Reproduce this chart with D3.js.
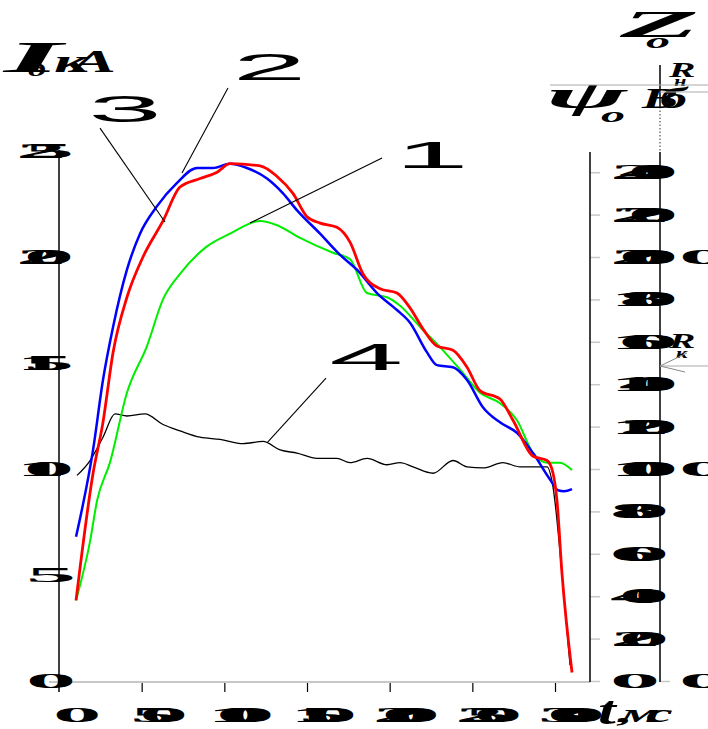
<!DOCTYPE html>
<html>
<head>
  <meta charset="UTF-8">
  <title>Iд(t)</title>
  <script src="https://cdn.jsdelivr.net/npm/d3@7"></script>
  <style>
    html, body { margin: 0; padding: 0; background: #fff; overflow: hidden; }
    svg { display: block; }
  </style>
</head>
<body>
<div id="chart"></div>
<script>
// curve 1 (green)
const t1 = [10.3, 18.8, 23.0, 30.8, 41.1, 53.2, 62.9, 73.2, 89.5, 103.4, 121.6, 131.9, 145.8, 165.7, 176.0, 186.3, 198.4, 206.3, 218.4, 230.4, 242.5, 254.6, 266.7, 277.0, 286.7, 295.2, 303.0, 310.3];
const i1 = [3.8, 6.6, 8.5, 10.3, 13.6, 15.8, 18.0, 19.2, 20.5, 21.1, 21.7, 21.5, 20.9, 20.2, 19.9, 18.3, 18.1, 17.7, 16.7, 15.75, 14.7, 13.6, 13.1, 12.3, 10.75, 10.3, 10.3, 9.95];

// curve 2 (blue)
const t2 = [10.3, 20.6, 26.6, 32.7, 41.1, 49.0, 59.3, 71.4, 83.5, 93.1, 103.4, 113.7, 125.8, 135.5, 144.0, 157.9, 170.0, 180.2, 192.3, 204.4, 212.3, 222.6, 228.6, 238.3, 246.8, 256.5, 266.7, 277.0, 286.7, 297.0, 301.8, 305.5, 310.3];
const i2 = [6.8, 10.9, 14.2, 16.7, 19.4, 21.1, 22.4, 23.5, 24.2, 24.2, 24.4, 24.2, 23.7, 23.0, 22.2, 21.1, 20.1, 19.4, 18.3, 17.5, 16.9, 15.5, 14.9, 14.8, 14.2, 12.9, 12.2, 11.7, 10.75, 9.5, 9.0, 8.95, 9.05];

// curve 3 (red)
const t3 = [10.3, 20.6, 26.6, 32.7, 41.1, 50.8, 62.9, 73.2, 85.3, 95.6, 103.4, 121.6, 131.9, 141.5, 150.0, 157.9, 168.1, 176.0, 183.9, 194.2, 204.4, 212.3, 220.2, 228.6, 238.3, 246.8, 254.6, 266.7, 274.6, 286.7, 295.2, 298.8, 301.2, 304.2, 310.3];
const i3 = [3.8, 9.8, 12.2, 15.5, 18.1, 20.0, 21.7, 23.3, 23.7, 24.0, 24.4, 24.3, 23.8, 23.0, 21.9, 21.6, 21.4, 20.7, 19.2, 18.5, 18.3, 17.6, 16.6, 15.8, 15.6, 14.8, 13.7, 13.3, 12.3, 10.6, 10.4, 9.8, 8.5, 5.1, 0.4];

// curve 4 (black)
const t4 = [10.9, 18.8, 26.6, 33.9, 41.1, 52.0, 62.9, 73.2, 85.3, 97.4, 111.3, 123.4, 133.7, 144.0, 156.1, 168.1, 176.0, 186.3, 198.4, 206.3, 214.1, 226.2, 238.3, 246.8, 256.5, 268.5, 278.8, 289.1, 295.2, 298.8, 304.2, 309.1];
const i4 = [9.7, 10.4, 11.5, 12.6, 12.5, 12.6, 12.1, 11.8, 11.5, 11.4, 11.2, 11.3, 10.9, 10.75, 10.5, 10.5, 10.3, 10.5, 10.2, 10.3, 10.1, 9.8, 10.4, 10.1, 10.05, 10.3, 10.1, 10.1, 10.1, 9.15, 5.1, 0.75];

// ticks
const xTicks = [0, 50, 100, 150, 200, 250, 300];
const yTicks = [0, 5, 10, 15, 20, 25];
const psiTicks = [0, 20, 40, 60, 80, 100, 120, 140, 160, 180, 200, 220, 240];
const zTicks = [0, 0.1, 0.2];
const zLabels = ['0', '0.1', '0.2'];

// curve numbers: [label, t, I] and leader lines [t0, I0, t1, I1]
const curveNames = [['1', 203, 24.2], ['2', 105, 28.35], ['3', 17.5, 26.37], ['4', 163.5, 14.67]];
const leaders = [[195.4, 24.67, 115.5, 21.6], [102.2, 27.97, 74.4, 23.96], [24.8, 26.08, 64.1, 21.65], [161.5, 14.29, 125.8, 11.23]];

const W = 708, H = 729;
const svg = d3.select('#chart').append('svg').attr('width', W).attr('height', H);

const x = d3.scaleLinear().domain([0, 300]).range([59, 555]);
const y = d3.scaleLinear().domain([0, 25]).range([681, 151]);
const yPsi = d3.scaleLinear().domain([0, 250]).range([681, 151]);
const yZ = d3.scaleLinear().domain([0, 0.25]).range([681, 151]);

function stretchText(parent, str, px, py, o)
{
  return parent.append('text')
    .attr('transform', `translate(${px},${py}) scale(${o.sx},${o.sy || 1})`)
    .attr('font-family', o.family || 'Liberation Serif')
    .attr('font-size', o.size)
    .attr('font-weight', o.weight || 'bold')
    .attr('font-style', o.style || 'normal')
    .attr('letter-spacing', o.ls || 0)
    .attr('fill', '#000')
    .text(str);
}

function vline(px, y0, y1, color, w, dash)
{
  svg.append('line').attr('x1', px).attr('x2', px).attr('y1', y0).attr('y2', y1)
    .attr('stroke', color).attr('stroke-width', w).attr('stroke-dasharray', dash || null);
}

function hline(y0, x0, x1, color, w)
{
  svg.append('line').attr('x1', x0).attr('x2', x1).attr('y1', y0).attr('y2', y0)
    .attr('stroke', color).attr('stroke-width', w);
}

// ---- axes ----
const axes = svg.append('g');

// bottom baseline and ticks
hline(682, 49, 590, '#c8c8c8', 2);
axes.append('g').attr('transform', 'translate(0,682)')
  .call(d3.axisBottom(x).tickValues(xTicks.slice(1)).tickSize(10).tickSizeOuter(0).tickFormat(''))
  .call(g => g.select('.domain').remove())
  .call(g => g.selectAll('line').attr('stroke', '#000').attr('stroke-width', 1.2));

// left axis
axes.append('g').attr('transform', 'translate(59,0)')
  .call(d3.axisRight(y).tickValues(yTicks).tickSize(10).tickSizeOuter(0).tickFormat(''))
  .call(g => g.select('.domain').remove())
  .call(g => g.selectAll('line').attr('stroke', '#c8c8c8').attr('stroke-width', 1.5));
vline(59, 150, 692, '#000', 1.5);

// right axis (psi)
axes.append('g').attr('transform', 'translate(590,0)')
  .call(d3.axisRight(yPsi).tickValues(psiTicks).tickSize(10).tickSizeOuter(0).tickFormat(''))
  .call(g => g.select('.domain').remove())
  .call(g => g.selectAll('line').attr('stroke', '#c8c8c8').attr('stroke-width', 1.5));
vline(590, 152, 682, '#000', 1.5);

// tick labels
const labels = svg.append('g');
xTicks.forEach(v => {
  const s = String(v);
  stretchText(labels, s, x(v) - 6 - 5.5 * (s.length - 1), 722, {size: 22, sx: 4.4, ls: -8.9});
});
yTicks.forEach(v => {
  const s = String(v);
  stretchText(labels, s, 26 - 10 * (s.length - 1), y(v) + 7, {size: 20, sx: 5, ls: -8.4});
});
psiTicks.forEach(v => {
  const s = String(v);
  stretchText(labels, s, 610, yPsi(v) + 7, {size: 20, sx: 5, ls: -8.2});
});

// Zo axis
vline(660, 65, 107, '#000', 1.5);
vline(660, 107, 152, '#777', 1.5, '1.5,2');
vline(660, 152, 682, '#000', 1.5);
axes.append('g').attr('transform', 'translate(660,0)')
  .call(d3.axisRight(yZ).tickValues([0]).tickSize(10).tickSizeOuter(0).tickFormat(''))
  .call(g => g.select('.domain').remove())
  .call(g => g.selectAll('line').attr('stroke', '#c8c8c8').attr('stroke-width', 1.5));
zTicks.forEach((v, k) => {
  stretchText(labels, zLabels[k], 679, yZ(v) + 7, {size: 20, sx: 5, ls: 0});
});

// ---- curves ----
const line = d3.line().x(d => x(d[0])).y(d => y(d[1])).curve(d3.curveMonotoneX);
const series = [
  {t: t4, v: i4, color: '#000', w: 1.3},
  {t: t1, v: i1, color: '#00ee00', w: 2},
  {t: t2, v: i2, color: '#0000ff', w: 2.5},
  {t: t3, v: i3, color: '#ff0000', w: 2.8}
];
svg.append('g').selectAll('path').data(series).enter()
  .append('path')
    .attr('d', s => line(s.t.map((tt, k) => [tt, s.v[k]])))
    .attr('fill', 'none')
    .attr('stroke', s => s.color)
    .attr('stroke-width', s => s.w)
    .attr('stroke-linejoin', 'round');

// ---- curve numbers ----
svg.append('g').selectAll('line').data(leaders).enter()
  .append('line')
    .attr('x1', d => x(d[0])).attr('y1', d => y(d[1]))
    .attr('x2', d => x(d[2])).attr('y2', d => y(d[3]))
    .attr('stroke', '#000').attr('stroke-width', 1.1);
const names = svg.append('g');
curveNames.forEach(d => {
  stretchText(names, d[0], x(d[1]), y(d[2]), {size: 36, sx: 3.7, family: 'Liberation Sans', weight: 'normal'});
});

// ---- titles ----
const titles = svg.append('g');
stretchText(titles, 'I', 4, 72, {size: 44, sx: 3.4, style: 'italic'});
stretchText(titles, 'д', 28, 76, {size: 18, sx: 2, style: 'italic'});
stretchText(titles, 'кА', 54, 72, {size: 32, sx: 2.1, style: 'italic', ls: -8});

stretchText(titles, 't', 598, 724, {size: 40, sx: 1.6, style: 'italic'});
stretchText(titles, ',мс', 618, 722, {size: 26, sx: 2.3, style: 'italic', ls: -6});

stretchText(titles, 'Z', 620, 37, {size: 38, sx: 3.4, style: 'italic'});
stretchText(titles, 'o', 646, 48, {size: 20, sx: 2.4, style: 'italic'});

hline(85, 550, 708, '#aaa', 1.2);
stretchText(titles, 'ψ', 546, 108, {size: 38, sx: 3.2, style: 'italic'});
stretchText(titles, 'Вб', 642, 108, {size: 30, sx: 1.8, style: 'italic', ls: -10});
stretchText(titles, 'o', 601, 122, {size: 20, sx: 2.4, style: 'italic'});

stretchText(titles, 'R', 669, 77, {size: 22, sx: 1.8, style: 'italic'});
stretchText(titles, 'н', 674, 86, {size: 14, sx: 1.6, style: 'italic'});
hline(92, 660, 708, '#aaa', 1);

stretchText(titles, 'R', 669, 348, {size: 22, sx: 1.8, style: 'italic'});
stretchText(titles, 'к', 676, 358, {size: 14, sx: 1.6, style: 'italic'});
hline(366, 660, 708, '#aaa', 1);
svg.append('path').attr('d', 'M687,353L660,366L685,372')
  .attr('fill', 'none').attr('stroke', '#888').attr('stroke-width', 1);
</script>
</body>
</html>
